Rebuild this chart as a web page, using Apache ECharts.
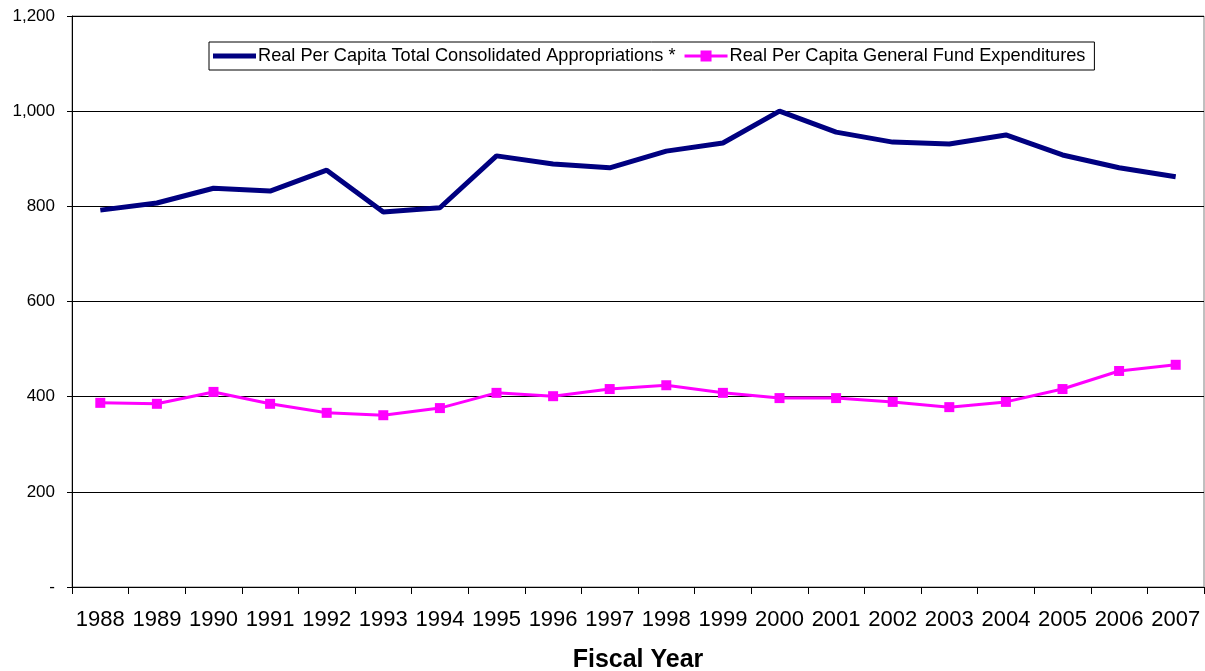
<!DOCTYPE html>
<html>
<head>
<meta charset="utf-8">
<title>Real Per Capita Appropriations</title>
<script src="https://cdn.jsdelivr.net/npm/echarts@6/dist/echarts.min.js"></script>
<style>
  html, body { margin: 0; padding: 0; background: #fff; }
  #chartWrapper { width: 1205px; height: 671px; }
</style>
</head>
<body>
<div id="chartWrapper"></div>
<script>
// 数据
var years = ['1988', '1989', '1990', '1991', '1992', '1993', '1994', '1995', '1996', '1997',
             '1998', '1999', '2000', '2001', '2002', '2003', '2004', '2005', '2006', '2007'];
var consolidated = [792, 807, 838, 832, 876, 788, 797, 906, 889, 881,
                    916, 933, 1000, 956, 935, 931, 950, 908, 881, 862];
var generalFund = [387, 385, 410, 385, 366, 361, 376, 408, 401, 416,
                   424, 408, 397, 397, 389, 378, 389, 416, 454, 467];
var seriesNames = ['Real Per Capita Total Consolidated Appropriations *',
                   'Real Per Capita General Fund Expenditures'];

// 图例图标：粗线 / 线+方块
var iconLine = 'path://M0,0 L43,0 L43,5 L0,5 Z';
var iconLineRect = 'path://M0,4 L16,4 L16,0 L27,0 L27,4 L43,4 L43,7 L27,7 L27,11 L16,11 L16,7 L0,7 Z';

var myChart = echarts.init(document.getElementById('chartWrapper'));

var option = {
    animation: false,
    textStyle: { fontFamily: 'Arial, "Liberation Sans", sans-serif', color: '#000' },
    legend: {
        top: 42,
        left: 209,
        padding: [5, 9, 5, 4],
        itemGap: 9,
        itemWidth: 43,
        itemHeight: 11,
        borderColor: '#000',
        borderWidth: 1,
        textStyle: { fontSize: 18.2, color: '#000', padding: [0, 0, 0, -3] },
        data: [
            { name: seriesNames[0], icon: iconLine },
            { name: seriesNames[1], icon: iconLineRect }
        ]
    },
    grid: {
        left: 72,
        right: 1,
        top: 16,
        bottom: 84,
        outerBoundsMode: 'none',
        show: true,
        borderColor: '#808080',
        borderWidth: 1
    },
    xAxis: {
        type: 'category',
        data: years,
        name: 'Fiscal Year',
        nameLocation: 'middle',
        nameGap: 61,
        nameTextStyle: { fontSize: 25, fontWeight: 'bold', color: '#000' },
        axisLine: { lineStyle: { color: '#000', width: 1 } },
        axisTick: { show: true, length: 7, lineStyle: { color: '#000', width: 1 } },
        axisLabel: { fontSize: 22, color: '#000', margin: 22, interval: 0 }
    },
    yAxis: {
        type: 'value',
        min: 0,
        max: 1200,
        interval: 200,
        axisLine: { show: true, lineStyle: { color: '#000', width: 1 } },
        axisTick: { show: true, length: 5, lineStyle: { color: '#000' } },
        splitLine: { lineStyle: { color: '#000', width: 1 } },
        axisLabel: {
            fontSize: 17,
            color: '#000',
            margin: 17,
            formatter: function(value) {
                if (value == 0) {
                    return '-';
                }
                return value.toLocaleString('en-US');
            }
        }
    },
    series: [{
        name: seriesNames[0],
        type: 'line',
        data: consolidated,
        symbol: 'none',
        lineStyle: { color: '#000080', width: 5 },
        itemStyle: { color: '#000080' }
    }, {
        name: seriesNames[1],
        type: 'line',
        data: generalFund,
        symbol: 'rect',
        symbolSize: 10,
        lineStyle: { color: '#ff00ff', width: 3 },
        itemStyle: { color: '#ff00ff' }
    }]
};

myChart.setOption(option);
</script>
</body>
</html>
